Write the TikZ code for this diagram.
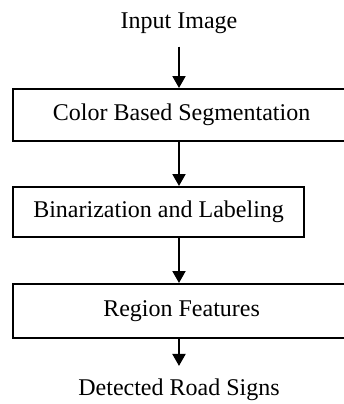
\documentclass[tikz,border=0pt]{standalone}
\usepackage{fontspec}
\setmainfont{Liberation Serif}
\usetikzlibrary{arrows.meta, positioning}
\tikzset{
  base/.style={draw=black, line width=1.1pt, align=center,
               font=\fontsize{12}{14}\selectfont, inner sep=0pt},
  stage/.style={base, anchor=north west, minimum height=26pt},
  io/.style={font=\fontsize{12}{14}\selectfont, inner sep=0pt, anchor=base},
  arr/.style={-{Triangle[length=6pt, width=6.5pt]}, line width=1pt},
}
\begin{document}
\begin{tikzpicture}[x=0.5pt, y=-0.5pt]
  \useasboundingbox (0,0) rectangle (344,404);
  \node[io] (in) at (179,28) {Input Image};
  \node[stage, minimum width=168.5pt] (cbs) at (12,88) {Color Based Segmentation};
  \node[stage, minimum width=145.5pt, minimum height=25pt] (bin) at (12,186) {Binarization and Labeling};
  \node[stage, minimum width=168.5pt, minimum height=27pt] (reg) at (12,283) {Region Features};
  \node[io] (out) at (179,395) {Detected Road Signs};

  \draw[arr] ([yshift=-6.5pt]in.south) -- (in.south |- cbs.north);
  \draw[arr] (in.south |- cbs.south) -- (in.south |- bin.north);
  \draw[arr] (in.south |- bin.south) -- (in.south |- reg.north);
  \draw[arr] (in.south |- reg.south) -- ([yshift=6pt]out.north);
\end{tikzpicture}
\end{document}
